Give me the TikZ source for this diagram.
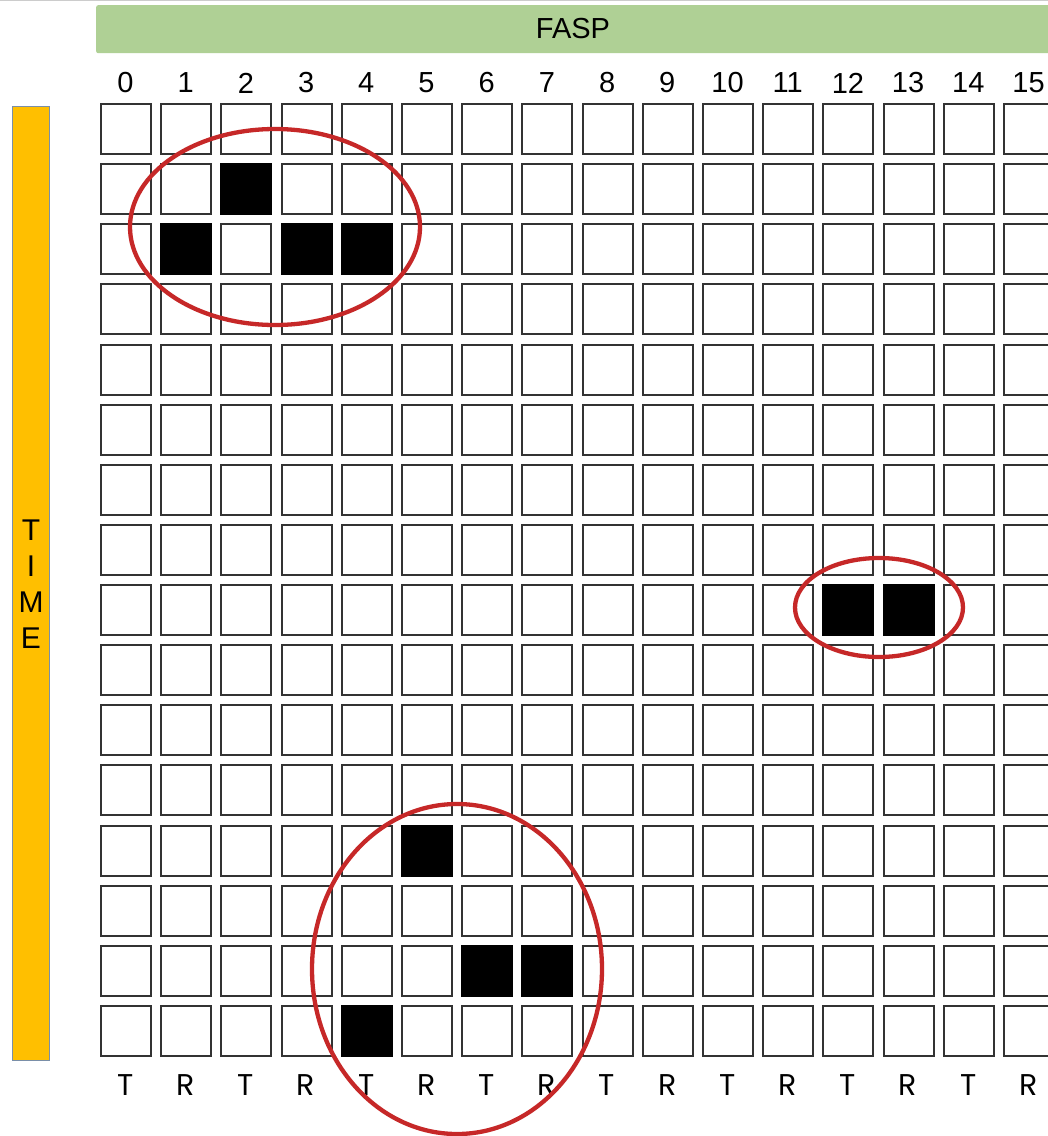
\documentclass[tikz,border=0pt]{standalone}
\usepackage{fontspec}
\setmainfont{Liberation Sans}
\newfontfamily\trfont{Poppins}
\definecolor{barGreen}{HTML}{AFD095}
\definecolor{barOrange}{HTML}{FFBF00}
\definecolor{barEdge}{HTML}{7A8FA8}
\definecolor{ringRed}{HTML}{C62828}
\definecolor{cellEdge}{HTML}{333333}
\begin{document}
\begin{tikzpicture}[x=1pt,y=-1pt,
  cellbox/.style={draw=cellEdge,line width=2pt,fill=white,minimum width=50pt,minimum height=50pt,inner sep=0pt,anchor=north west},
  cellfull/.style={cellbox,fill=black,draw=black},
  ring/.style={draw=ringRed,line width=4.3pt},
  numlabel/.style={font=\fontsize{29}{32}\selectfont,inner sep=0pt,text=black},
  trlabel/.style={font=\trfont\fontsize{30}{32}\selectfont,inner sep=0pt,text=black}]
\useasboundingbox (0,0) rectangle (1048,1136);
\fill[white] (0,0) rectangle (1048,1136);
\draw[gray!40,line width=1pt] (0,0.5) -- (1048,0.5);
% header bar
\node[fill=barGreen,rounded corners=2pt,minimum width=970pt,minimum height=48pt,anchor=north west,inner sep=0pt] (fasp) at (96,5) {};
\node[font=\fontsize{29}{32}\selectfont,inner sep=0pt] (fasptext) at (573,29) {FASP};
% time bar
\node[fill=barOrange,draw=barEdge,line width=0.8pt,minimum width=37pt,minimum height=954pt,anchor=north west,inner sep=0pt] (timebar) at (12,106) {};
\node[font=\fontsize{30}{36}\selectfont,align=center,inner sep=0pt] (timetext) at (31,584) {T\\I\\M\\E};
% grid
\foreach \c in {0,...,15}{
  \foreach \r in {0,...,15}{
    \node[cellbox] (c\c r\r) at ({100+60.2*\c},{103+60.13*\r}) {};
  }
  \node[numlabel] (n\c) at ({125.5+60.2*\c},83) {\c};
}
\foreach \c/\r in {2/1,1/2,3/2,4/2,12/8,13/8,5/12,6/14,7/14,4/15}{
  \node[cellfull] (f\c r\r) at ({100+60.2*\c},{103+60.13*\r}) {};
}
\foreach \c/\l in {0/T,1/R,2/T,3/R,4/T,5/R,6/T,7/R,8/T,9/R,10/T,11/R,12/T,13/R,14/T,15/R}{
  \node[trlabel] (tr\c) at ({125.5+60.2*\c},1085) {\l};
}
% rings
\draw[ring] (275,227) ellipse [x radius=145, y radius=98];
\draw[ring] (879,607.5) ellipse [x radius=84, y radius=49.5];
\draw[ring] (457,969) ellipse [x radius=145, y radius=165];
\end{tikzpicture}
\end{document}
